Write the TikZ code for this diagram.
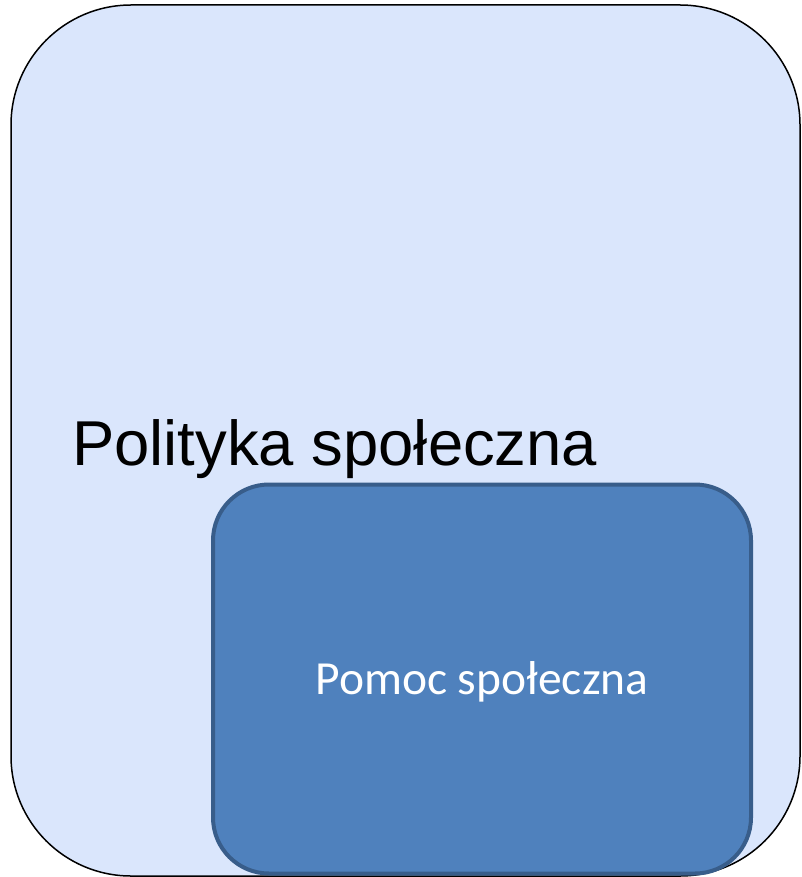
\documentclass[tikz,border=0pt]{standalone}
\usepackage{fontspec}
\setmainfont{Liberation Sans}
\newfontfamily\calibri{Carlito}
\definecolor{outerfill}{RGB}{218,230,252}
\definecolor{innerfill}{RGB}{79,129,189}
\definecolor{innerline}{RGB}{56,93,138}
\begin{document}
\begin{tikzpicture}[x=1pt,y=-1pt,
  outerbox/.style={draw=black, line width=1.5pt, fill=outerfill, rounded corners=120pt, inner sep=0pt, minimum width=789pt, minimum height=871pt},
  innerbox/.style={draw=innerline, line width=4pt, fill=innerfill, rounded corners=56pt, inner sep=0pt, minimum width=538pt, minimum height=389pt},
  bigtext/.style={font=\fontsize{63.4}{70}\selectfont, text=black, inner sep=0pt},
  smalltext/.style={font=\calibri\fontsize{47.5}{54}\selectfont, text=white, inner sep=0pt}]
\useasboundingbox (0,0) rectangle (801,877);
\node[outerbox] (outer) at (405.5,440.5) {};
\node[bigtext, anchor=base west] (polityka) at (72,465) {Polityka społeczna};
\node[innerbox] (inner) at (482,679) {};
\node[smalltext, anchor=base] (pomoc) at (482,694) {Pomoc społeczna};
\end{tikzpicture}
\end{document}
